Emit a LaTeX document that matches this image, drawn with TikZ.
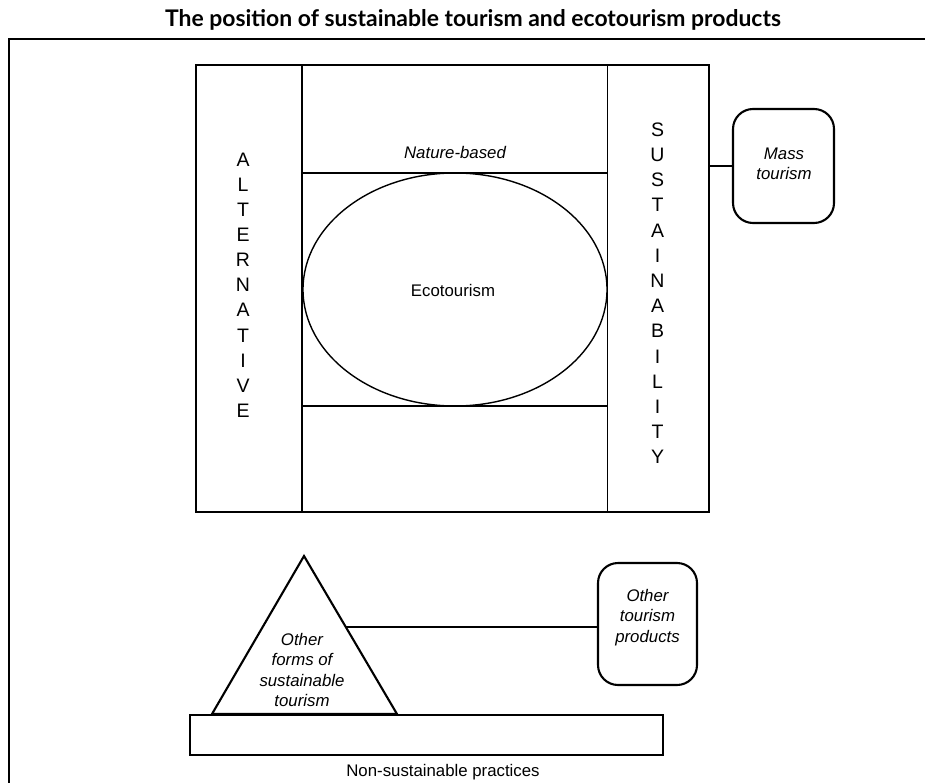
\documentclass[tikz,border=0pt]{standalone}
\usepackage{fontspec}
\setmainfont{Liberation Sans}
\newfontfamily\headfont{Lato}
\usetikzlibrary{calc,shapes.geometric}

\tikzset{
  heavyline/.style={draw=black, line width=2.4pt},
  boxline/.style={draw=black, line width=2.1pt},
  thinline/.style={draw=black, line width=1.4pt},
  linkline/.style={draw=black, line width=1.3pt},
  plainbox/.style={inner sep=0pt, outer sep=0pt},
  roundbox/.style={boxline, rounded corners=20pt, inner sep=0pt},
  label/.style={font=\fontsize{16.8}{20.3}\selectfont, align=center, inner sep=0pt},
  itlabel/.style={label, font=\fontsize{16.8}{20.3}\selectfont\itshape},
  colletter/.style={font=\fontsize{19.5}{21}\selectfont, inner sep=0pt, anchor=base},
}

\begin{document}
\begin{tikzpicture}[x=1pt, y=-1pt]
\useasboundingbox (0,0) rectangle (925,783);
\fill[white] (0,0) rectangle (925,783);

% heading
\node[font=\headfont\bfseries\fontsize{22.9}{26}\selectfont, inner sep=0pt] (title) at (473,20)
  {The position of sustainable tourism and ecotourism products};

% open frame: left and top rules
\coordinate (frameBL) at (9,783);
\coordinate (frameTL) at (9,39);
\coordinate (frameTR) at (925,39);
\draw[line width=2.6pt] (frameBL) -- (frameTL) -- (frameTR);

% central panel
\node[plainbox, minimum width=305.5pt, minimum height=447pt] (midcol) at (454.75,288.5) {};
\draw[thinline, line width=1.8pt] (midcol.north west) -- (midcol.south west);
\draw[thinline, line width=1.8pt] (midcol.north east) -- (midcol.south east);
\node[plainbox, minimum width=305.5pt, minimum height=233pt] (band) at (454.75,289.5) {};
\draw[thinline] (band.north west) -- (band.north east);
\draw[thinline] (band.south west) -- (band.south east);
\node[heavyline, plainbox, minimum width=513pt, minimum height=447pt] (outer) at (452.5,288.5) {};

\node[itlabel] (nature) at (455,153) {Nature-based};
\node[draw=black, line width=1.4pt, ellipse, inner sep=0pt,
      minimum width=304pt, minimum height=233pt] (eco) at (455,289.5) {};
\node[label] (ecolabel) at (453,290) {Ecotourism};

% vertical words
\foreach \c [count=\i] in {A,L,T,E,R,N,A,T,I,V,E}
  \node[colletter] (alt\i) at (243,{166.3+(\i-1)*25.1}) {\c};
\foreach \c [count=\i] in {S,U,S,T,A,I,N,A,B,I,L,I,T,Y}
  \node[colletter] (sus\i) at (657.5,{136.3+(\i-1)*25.2}) {\c};

% mass tourism
\node[roundbox, minimum width=101pt, minimum height=114pt] (mass) at (783.5,166) {};
\node[itlabel] (masslabel) at (784,164) {Mass\\tourism};
\draw[linkline] (outer.east |- mass.west) -- (mass.west);

% lower part
\coordinate (apex) at (304,556);
\coordinate (triL) at (212,714);
\coordinate (triR) at (397,714);
\draw[boxline, line join=miter] (apex) -- (triL) -- (triR) -- cycle;
\node[itlabel] (sustlabel) at (302,670) {Other\\forms of\\sustainable\\tourism};

\node[roundbox, minimum width=99pt, minimum height=122pt] (other) at (647.5,624) {};
\node[itlabel] (otherlabel) at (647.5,617.5) {Other\\tourism\\products};
\coordinate (triSide) at ($(apex)!0.449!(triR)$);
\draw[linkline] (triSide) -- (triSide -| other.west);

\node[heavyline, plainbox, minimum width=473pt, minimum height=40pt] (base) at (426.5,735) {};
\node[label] (baselabel) at (443,772) {Non-sustainable practices};
\end{tikzpicture}
\end{document}
